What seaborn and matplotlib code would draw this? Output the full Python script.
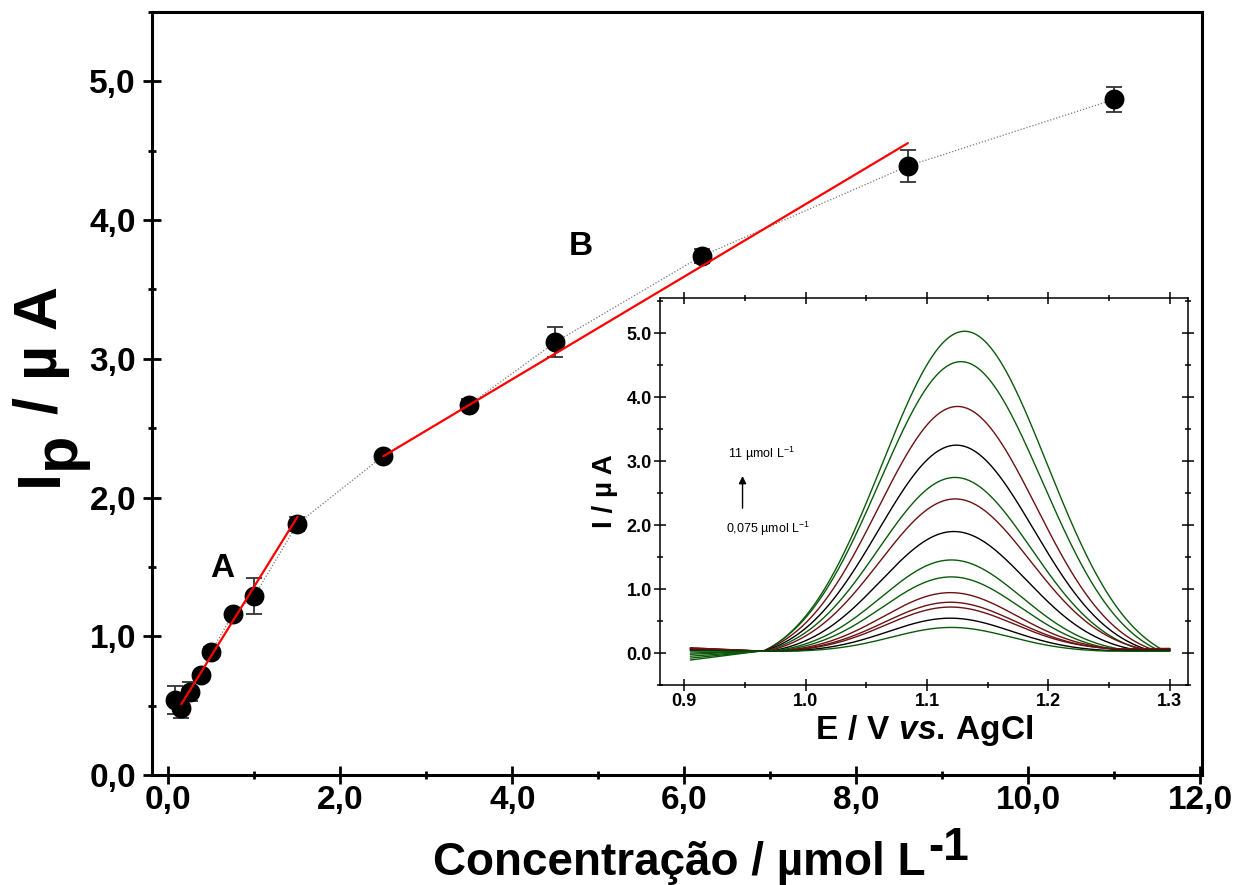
import numpy as np
import pandas as pd
import matplotlib
matplotlib.use("Agg")
import matplotlib.pyplot as plt
import seaborn as sns
from matplotlib.ticker import MultipleLocator, FuncFormatter

# ---- calibration data ----
conc = [0.075, 0.15, 0.25, 0.375, 0.5, 0.75, 1.0, 1.5, 2.5, 3.5, 4.5, 6.2, 8.6, 11.0]
ip_mean = [0.54, 0.48, 0.60, 0.72, 0.89, 1.16, 1.29, 1.81, 2.30, 2.67, 3.12, 3.74, 4.39, 4.87]
ip_sd = [0.10, 0.07, 0.07, 0.03, 0.03, 0.03, 0.13, 0.05, 0.03, 0.04, 0.11, 0.05, 0.115, 0.09]

# linear ranges
range_names = ["A", "B"]
fit_slope = [1.00, 0.37]
fit_intercept = [0.36, 1.373]
fit_start = [0.15, 2.5]
fit_end = [1.5, 8.6]
range_label_x = [0.63, 4.80]
range_label_y = [1.49, 3.81]

# ---- voltammograms (highest to lowest concentration) ----
peak_height = [5.00, 4.52, 3.81, 3.21, 2.71, 2.36, 1.86, 1.42, 1.16, 0.90, 0.75, 0.67, 0.51, 0.37]
peak_potential = [1.131, 1.128, 1.125, 1.124, 1.123, 1.123, 1.122, 1.120, 1.120, 1.119, 1.119, 1.119, 1.119, 1.120]
peak_sigma = [0.068, 0.067, 0.065, 0.064, 0.063, 0.062, 0.060, 0.058, 0.057, 0.055, 0.054, 0.053, 0.051, 0.049]
peak_foot = [0.165, 0.163, 0.160, 0.158, 0.156, 0.154, 0.150, 0.146, 0.144, 0.140, 0.138, 0.136, 0.132, 0.128]
base_start = [-0.11, -0.08, 0.08, 0.05, -0.05, 0.07, 0.05, -0.02, 0.00, 0.07, 0.06, 0.08, 0.04, 0.03]
base_end = [0.03, 0.04, 0.06, 0.05, 0.04, 0.07, 0.05, 0.04, 0.03, 0.06, 0.06, 0.07, 0.04, 0.03]
curve_color = ["#0b5a0b", "#0b5a0b", "#6b1212", "#000000", "#0b5a0b", "#6b1212", "#000000",
               "#0b5a0b", "#0b5a0b", "#6b1212", "#6b1212", "#6b1212", "#000000", "#0b5a0b"]
arrow_low_label = "0,075 µmol L$^{-1}$"
arrow_high_label = "11 µmol L$^{-1}$"

sns.set_theme(style="ticks")
plt.rcParams["font.family"] = ["Liberation Sans", "DejaVu Sans"]
plt.rcParams["mathtext.fontset"] = "custom"
plt.rcParams["mathtext.rm"] = "Liberation Sans"
plt.rcParams["mathtext.it"] = "Liberation Sans:italic:bold"
plt.rcParams["mathtext.bf"] = "Liberation Sans:bold"
for key in ["text.color", "axes.labelcolor", "xtick.color", "ytick.color", "axes.edgecolor"]:
    plt.rcParams[key] = "black"

W, H = 1253, 885
fig = plt.figure(figsize=(W / 100, H / 100), dpi=100)
fig.patch.set_facecolor("white")

# ---------------- main axes ----------------
ax = fig.add_axes([152 / W, 110 / H, 1050 / W, 763 / H])
ax.set_facecolor("white")

calib = pd.DataFrame({"conc": conc, "ip": ip_mean, "sd": ip_sd})
sns.lineplot(data=calib, x="conc", y="ip", ax=ax, color="#777777", linestyle=(0, (1, 1.5)),
             linewidth=0.9, sort=False, estimator=None, zorder=1)
ax.errorbar(calib["conc"], calib["ip"], yerr=calib["sd"], fmt="none", ecolor="#333333",
            elinewidth=1.3, capsize=5.5, capthick=1.3, zorder=2)

for s, b, x0, x1 in zip(fit_slope, fit_intercept, fit_start, fit_end):
    xs = np.array([x0, x1])
    fit_df = pd.DataFrame({"x": xs, "y": s * xs + b})
    sns.lineplot(data=fit_df, x="x", y="y", ax=ax, color="#ff0000", linewidth=1.6, zorder=4)

sns.scatterplot(data=calib, x="conc", y="ip", ax=ax, s=205, color="black",
                edgecolor="black", linewidth=0, zorder=3)

for name, lx, ly in zip(range_names, range_label_x, range_label_y):
    ax.text(lx, ly, name, fontsize=24, fontweight="bold", ha="center", va="center")

ax.set_xlim(-0.19, 12.02)
ax.set_ylim(0, 5.5)
ax.xaxis.set_major_locator(MultipleLocator(2))
ax.xaxis.set_minor_locator(MultipleLocator(1))
ax.yaxis.set_major_locator(MultipleLocator(1))
ax.yaxis.set_minor_locator(MultipleLocator(0.5))
comma = FuncFormatter(lambda v, p: f"{v:.1f}".replace(".", ","))
ax.xaxis.set_major_formatter(comma)
ax.yaxis.set_major_formatter(comma)
ax.tick_params(which="major", direction="inout", length=13, width=2, labelsize=24)
ax.tick_params(which="minor", direction="inout", length=6, width=2)
ax.tick_params(axis="x", which="major", pad=1)
ax.tick_params(axis="y", which="major", pad=5)
for lab in ax.get_xticklabels() + ax.get_yticklabels():
    lab.set_fontweight("bold")
for sp in ax.spines.values():
    sp.set_linewidth(2.2)
ax.set_xlabel("")
ax.set_ylabel("")

# axis titles
fig.text(57 / W, (H - 486) / H, "I", rotation=90, rotation_mode="anchor", ha="left",
         va="baseline", fontsize=44, fontweight="bold")
fig.text(74 / W, (H - 469) / H, "p", rotation=90, rotation_mode="anchor", ha="left",
         va="baseline", fontsize=44, fontweight="bold")
fig.text(57 / W, (H - 414) / H, "/ µ A", rotation=90, rotation_mode="anchor", ha="left",
         va="baseline", fontsize=44, fontweight="bold")

xt = fig.text(433 / W, (H - 875) / H, "Concentração / µmol L", ha="left", va="baseline",
              fontsize=33, fontweight="bold")
ax.annotate("-1", xy=(1.0, H - 860), xycoords=(xt, "figure pixels"), xytext=(3, 0),
            textcoords="offset pixels", ha="left", va="baseline", fontsize=33,
            fontweight="bold", annotation_clip=False)

# ---------------- inset ----------------
axi = fig.add_axes([660 / W, 200 / H, 528 / W, 387 / H])
axi.set_facecolor("white")
E = np.linspace(0.905, 1.30, 600)
rows = []
for k, (h, c, sg, ft, b0, b1) in enumerate(zip(peak_height, peak_potential, peak_sigma,
                                               peak_foot, base_start, base_end)):
    base = np.interp(E, [0.905, 0.962, 1.30], [b0, 0.03, b1])
    g = np.exp(-0.5 * ((E - c) / sg) ** 2)
    g_foot = np.exp(-0.5 * (ft / sg) ** 2)
    peak = h * np.clip((g - g_foot) / (1 - g_foot), 0, None)
    rows.append(pd.DataFrame({"E": E, "I": base + peak, "curve": k}))
dpv = pd.concat(rows, ignore_index=True)
sns.lineplot(data=dpv, x="E", y="I", hue="curve", hue_order=list(range(len(peak_height))),
             palette=curve_color, ax=axi, linewidth=1.0, legend=False, sort=False,
             estimator=None)

axi.annotate("", xy=(0.948, 2.81), xytext=(0.948, 2.22),
             arrowprops=dict(arrowstyle="-|>", color="black", lw=1.0, mutation_scale=11))
axi.text(0.936, 3.11, arrow_high_label, fontsize=9, ha="left", va="center")
axi.text(0.9345, 1.94, arrow_low_label, fontsize=9, ha="left", va="center")

axi.set_xlim(0.880, 1.315)
axi.set_ylim(-0.5, 5.55)
axi.xaxis.set_major_locator(MultipleLocator(0.1))
axi.xaxis.set_minor_locator(MultipleLocator(0.05))
axi.yaxis.set_major_locator(MultipleLocator(1))
axi.yaxis.set_minor_locator(MultipleLocator(0.5))
axi.xaxis.set_major_formatter(FuncFormatter(lambda v, p: f"{v:.1f}"))
axi.yaxis.set_major_formatter(FuncFormatter(lambda v, p: f"{v:.1f}"))
axi.tick_params(which="major", direction="inout", length=8, width=1.1, labelsize=13, pad=2)
axi.tick_params(which="minor", direction="inout", length=4, width=1.1)
axi.tick_params(which="both", top=True, right=True)
for lab in axi.get_xticklabels() + axi.get_yticklabels():
    lab.set_fontweight("bold")
for sp in axi.spines.values():
    sp.set_linewidth(1.1)
axi.set_xlabel(r"$\mathbf{E\ /\ V}\ \mathit{vs}\mathbf{.}\,\mathbf{AgCl}$", fontsize=24, labelpad=2)
axi.set_ylabel("I / µ A", fontsize=20, fontweight="bold", labelpad=6)

fig.savefig("out.png", dpi=100, facecolor="white")
